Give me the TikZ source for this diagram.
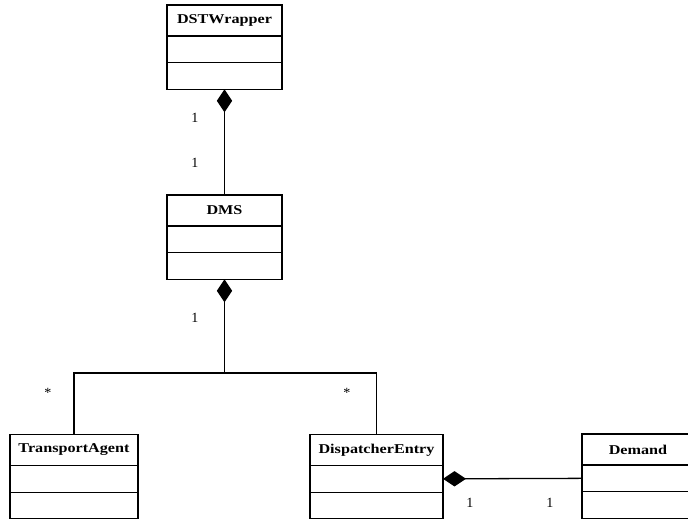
\documentclass[tikz,border=0pt]{standalone}
\usepackage{fontspec}
\setmainfont{Liberation Serif}
\newfontfamily\umlfont[FakeStretch=1.2]{Liberation Serif}
\usetikzlibrary{arrows.meta, positioning}

\begin{document}
\begin{tikzpicture}[
    x=0.03cm, y=-0.03cm,
    head/.style={rectangle, draw, line width=1.1pt, inner sep=0pt, outer sep=0pt, minimum height=0.93cm, font=\umlfont\fontsize{11.5}{13}\selectfont\bfseries},
    part/.style={rectangle, draw, line width=1.1pt, inner sep=0pt, outer sep=0pt, minimum height=0.8cm},
    comp/.style={{Diamond[length=6.9mm, width=4.6mm]}-, line width=1.1pt},
    link/.style={line width=1.1pt},
    mult/.style={inner sep=0pt, font=\fontsize{12}{14}\selectfont}
]
    \useasboundingbox (0,0) rectangle (688,518);

    % Klassen oben: DSTWrapper und DMS
    \node[head, minimum width=3.45cm] (dst) at (224.5, 20.5) {DSTWrapper};
    \node[part, minimum width=3.45cm, below=0pt of dst] (dst_attr) {};
    \node[part, minimum width=3.45cm, below=0pt of dst_attr] (dst_ops) {};

    \node[head, minimum width=3.45cm] (dms) at (224.5, 210.5) {DMS};
    \node[part, minimum width=3.45cm, below=0pt of dms] (dms_attr) {};
    \node[part, minimum width=3.45cm, below=0pt of dms_attr] (dms_ops) {};

    % Klassen unten
    \node[head, minimum width=3.84cm] (agent) at (74, 450) {TransportAgent};
    \node[part, minimum width=3.84cm, below=0pt of agent] (agent_attr) {};
    \node[part, minimum width=3.84cm, below=0pt of agent_attr] (agent_ops) {};

    \node[head, minimum width=3.99cm] (entry) at (376.5, 450) {DispatcherEntry};
    \node[part, minimum width=3.99cm, below=0pt of entry] (entry_attr) {};
    \node[part, minimum width=3.99cm, below=0pt of entry_attr] (entry_ops) {};

    \node[head, minimum width=3.36cm] (demand) at (638, 449.5) {Demand};
    \node[part, minimum width=3.36cm, below=0pt of demand] (demand_attr) {};
    \node[part, minimum width=3.36cm, below=0pt of demand_attr] (demand_ops) {};

    % Kompositionen
    \draw[comp] (dst_ops.south) -- (dms.north);
    \node[mult] (m_dst) at (195, 118) {1};
    \node[mult] (m_dms) at (195, 163) {1};

    \coordinate (bus) at (224.5, 373);
    \draw[comp] (dms_ops.south) -- (bus);
    \draw[link] (bus) -| (agent.north);
    \draw[link] (bus) -| (entry.north);
    \node[mult] (m_bus) at (195, 318) {1};
    \node[mult] (m_agent) at (48, 393) {*};
    \node[mult] (m_entry) at (347, 393) {*};

    \draw[comp] (entry_attr.east) -- (demand_attr.west);
    \node[mult] (m_entry2) at (470, 503) {1};
    \node[mult] (m_demand) at (550, 503) {1};
\end{tikzpicture}
\end{document}
